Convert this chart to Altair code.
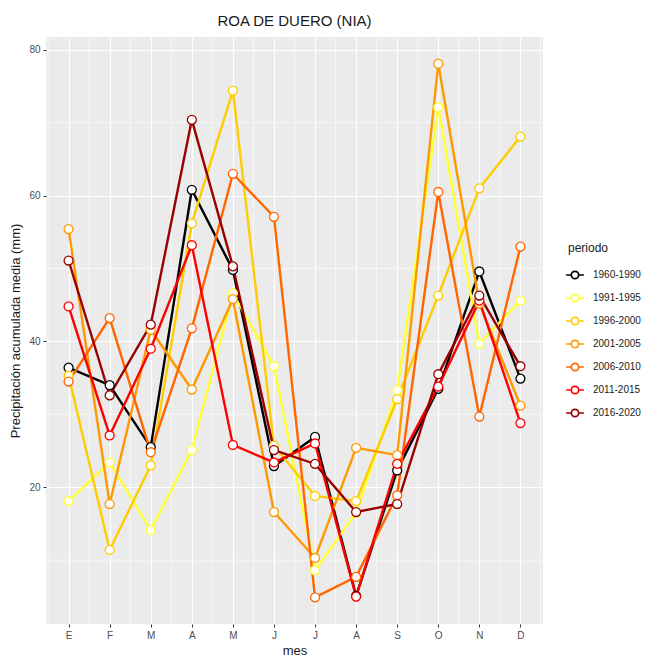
import altair as alt
import pandas as pd

months = ["E", "F", "M", "A", "M", "J", "J", "A", "S", "O", "N", "D"]
periods = ["1960-1990", "1991-1995", "1996-2000", "2001-2005", "2006-2010", "2011-2015", "2016-2020"]
colors = ["#000000", "#FFFF33", "#FFCC00", "#FF9900", "#FF6600", "#FF0000", "#990000"]

p1960_1990 = [36.4, 34.0, 25.5, 60.8, 49.8, 22.9, 26.9, 5.1, 22.3, 33.5, 49.6, 34.9]
p1991_1995 = [18.1, 23.4, 14.1, 25.1, 46.6, 36.6, 8.6, 16.5, 33.3, 72.1, 39.7, 45.6]
p1996_2000 = [35.3, 11.4, 23.0, 56.2, 74.4, 25.7, 18.8, 18.1, 32.1, 46.3, 61.0, 68.1]
p2001_2005 = [55.4, 17.7, 41.6, 33.4, 45.8, 16.6, 10.3, 25.4, 24.4, 78.1, 45.2, 31.2]
p2006_2010 = [34.5, 43.2, 24.8, 41.8, 63.0, 57.1, 4.9, 7.7, 18.9, 60.5, 29.7, 53.0]
p2011_2015 = [44.8, 27.1, 39.0, 53.2, 25.8, 23.4, 26.0, 5.0, 23.2, 33.8, 45.6, 28.8]
p2016_2020 = [51.1, 32.6, 42.3, 70.4, 50.3, 25.1, 23.2, 16.6, 17.7, 35.5, 46.3, 36.6]

series = [p1960_1990, p1991_1995, p1996_2000, p2001_2005, p2006_2010, p2011_2015, p2016_2020]

y_major = [20, 40, 60, 80]
y_minor = [10, 30, 50, 70]
x_major = list(range(1, 13))
x_minor = [i + 0.5 for i in range(0, 13)]

rows = []
for per, vals in zip(periods, series):
    for i, v in enumerate(vals):
        rows.append({"mes": i + 1, "valor": v, "periodo": per})
df = pd.DataFrame(rows)

all_vals = [v for s in series for v in s]
lo, hi = min(all_vals), max(all_vals)
pad = (hi - lo) * 0.05
y_dom = [lo - pad, hi + pad]
x_dom = [1 - 0.55, 12 + 0.55]

label_expr = "[" + ",".join("'%s'" % m for m in months) + "][datum.value - 1]"

xs = alt.Scale(domain=x_dom, nice=False, zero=False)
ys = alt.Scale(domain=y_dom, nice=False, zero=False)

color_enc = alt.Color(
    "periodo:N",
    scale=alt.Scale(domain=periods, range=colors),
    sort=periods,
    legend=alt.Legend(
        title="periodo",
        orient="none",
        legendX=522,
        legendY=206,
        symbolType="M -1.5 0 L -0.62 0 M 0.62 0 L 1.5 0 M -0.62 0 A 0.62 0.62 0 1 0 0.62 0 A 0.62 0.62 0 1 0 -0.62 0 Z",
        symbolSize=140,
        symbolStrokeWidth=1.7,
        symbolFillColor="white",
        symbolOpacity=1,
        rowPadding=7,
        labelFontSize=10,
        labelColor="#1a1a1a",
        titleFontSize=12,
        titleFontWeight="normal",
        titleColor="#1a1a1a",
        titlePadding=13,
        labelOffset=11,
    ),
)

minor_y = alt.Chart(pd.DataFrame({"v": y_minor})).mark_rule(color="white", strokeWidth=0.6).encode(
    y=alt.Y("v:Q", scale=ys)
)
minor_x = alt.Chart(pd.DataFrame({"v": x_minor})).mark_rule(color="white", strokeWidth=0.6).encode(
    x=alt.X("v:Q", scale=xs)
)

base = alt.Chart(df).encode(
    x=alt.X(
        "mes:Q",
        scale=xs,
        title="mes",
        axis=alt.Axis(values=x_major, labelExpr=label_expr, grid=True),
    ),
    y=alt.Y(
        "valor:Q",
        scale=ys,
        title="Precipitación acumulada media (mm)",
        axis=alt.Axis(values=y_major, grid=True),
    ),
    color=color_enc,
)

lines = base.mark_line(strokeWidth=2.4).encode(detail="periodo:N")
points = base.mark_point(filled=False, fill="white", fillOpacity=1, size=80, strokeWidth=1.3, opacity=1)

chart = (
    alt.layer(minor_y, minor_x, lines, points)
    .properties(
        width=497,
        height=587,
        title=alt.Title("ROA DE DUERO (NIA)", fontSize=15, fontWeight="normal", color="#1a1a1a", anchor="middle", offset=8),
        padding={"left": 1, "top": 5, "right": 0, "bottom": 5},
    )
    .configure_view(fill="#EBEBEB", stroke=None)
    .configure_axis(
        gridColor="white",
        gridWidth=1.2,
        domain=False,
        tickColor="#333333",
        tickSize=3,
        labelColor="#4D4D4D",
        labelFontSize=10,
        labelFont="Liberation Sans",
        titleFont="Liberation Sans",
        titleFontSize=13,
        titleFontWeight="normal",
        titleColor="#1a1a1a",
        labelPadding=3,
    )
    .configure_axisY(titlePadding=6)
    .configure_axisX(titlePadding=4)
    .configure_legend(labelFont="Liberation Sans", titleFont="Liberation Sans")
    .configure_title(font="Liberation Sans")
)

chart.save("out.html", embed_options={"renderer": "svg", "actions": False})
